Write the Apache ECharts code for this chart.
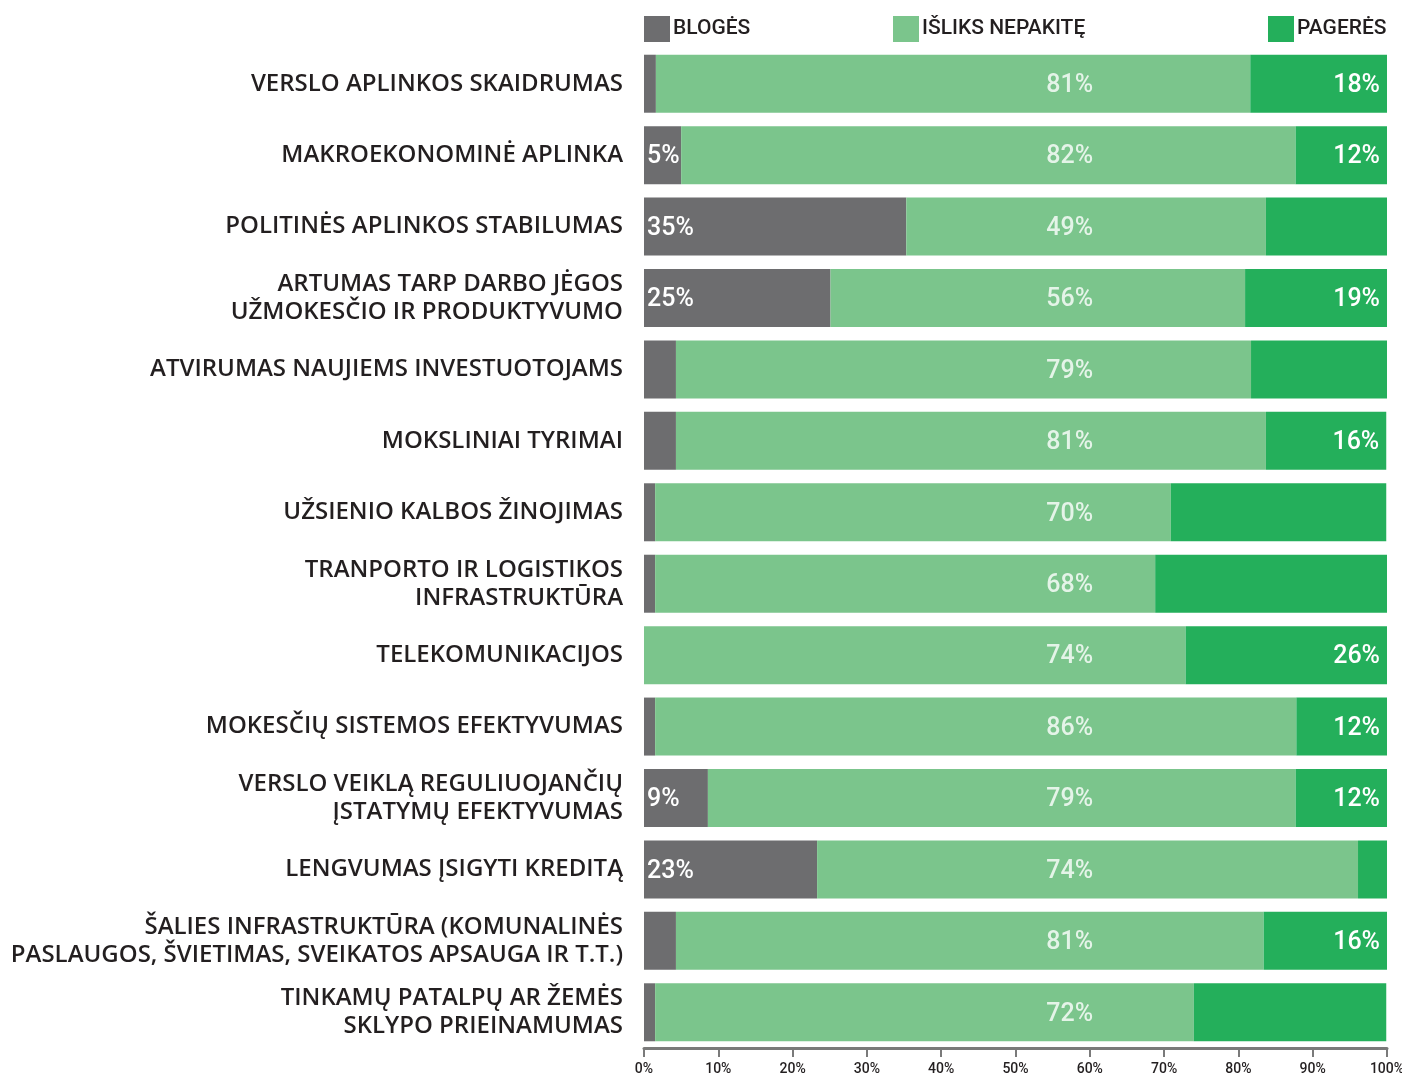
<!DOCTYPE html>
<html>
<head>
<meta charset="utf-8">
<title>Verslo aplinka</title>
<script src="https://cdn.jsdelivr.net/npm/echarts@6/dist/echarts.min.js"></script>
<style>
  html, body { margin: 0; padding: 0; background: #fff; }
  #stats { width: 1402px; height: 1076px; }
</style>
</head>
<body>
<div id="stats"></div>
<script>
let categories = [
    'VERSLO APLINKOS SKAIDRUMAS',
    'MAKROEKONOMINĖ APLINKA',
    'POLITINĖS APLINKOS STABILUMAS',
    'ARTUMAS TARP DARBO JĖGOS\nUŽMOKESČIO IR PRODUKTYVUMO',
    'ATVIRUMAS NAUJIEMS INVESTUOTOJAMS',
    'MOKSLINIAI TYRIMAI',
    'UŽSIENIO KALBOS ŽINOJIMAS',
    'TRANPORTO IR LOGISTIKOS\nINFRASTRUKTŪRA',
    'TELEKOMUNIKACIJOS',
    'MOKESČIŲ SISTEMOS EFEKTYVUMAS',
    'VERSLO VEIKLĄ REGULIUOJANČIŲ\nĮSTATYMŲ EFEKTYVUMAS',
    'LENGVUMAS ĮSIGYTI KREDITĄ',
    'ŠALIES INFRASTRUKTŪRA (KOMUNALINĖS\nPASLAUGOS, ŠVIETIMAS, SVEIKATOS APSAUGA IR T.T.)',
    'TINKAMŲ PATALPŲ AR ŽEMĖS\nSKLYPO PRIEINAMUMAS'
];
// bar lengths as drawn (%)
let bloges   = [1.6, 5.0, 35.3, 25.1, 4.3, 4.3, 1.5, 1.5, 0, 1.5, 8.6, 23.3, 4.3, 1.5];
let nepakite = [80.0, 82.7, 48.4, 55.8, 77.4, 79.4, 69.4, 67.3, 72.9, 86.3, 79.1, 72.8, 79.1, 72.5];
let pageres  = [18.4, 12.3, 16.3, 19.1, 18.3, 16.2, 29.0, 31.3, 27.1, 12.4, 12.4, 4.0, 16.6, 25.9];
// printed labels (empty = not printed)
let blogesLabels   = ['', '5%', '35%', '25%', '', '', '', '', '', '', '9%', '23%', '', ''];
let nepakiteLabels = ['81%', '82%', '49%', '56%', '79%', '81%', '70%', '68%', '74%', '86%', '79%', '74%', '81%', '72%'];
let pageresLabels  = ['18%', '12%', '', '19%', '', '16%', '', '', '26%', '12%', '12%', '', '16%', ''];
let xTicks = [0, 10, 20, 30, 40, 50, 60, 70, 80, 90, 100];

let FONT_NUM = "'Roboto', 'DejaVu Sans Condensed', sans-serif";
let FONT_CAT = "'Open Sans', 'Noto Sans', sans-serif";
let MID_LABEL_X = 57.3; // middle labels all sit in one column
let C_GRAY = '#6d6d6f', C_LIGHT = '#7bc58c', C_GREEN = '#24af5b';

let myChart = echarts.init(document.getElementById('stats'));

let numLabel = function (arr, pos, dist) {
    return {
        show: true,
        position: pos,
        distance: dist,
        offset: [0, 2],
        color: '#fff',
        fontFamily: FONT_NUM,
        fontWeight: 500,
        fontSize: 25,
        formatter: function (p) { return arr[p.dataIndex]; }
    };
};

let legendItem = function (name, left) {
    return {
        data: [name],
        left: left,
        top: 16,
        icon: 'rect',
        itemWidth: 26,
        itemHeight: 26,
        itemGap: 0,
        padding: 0,
        selectedMode: false,
        textStyle: {
            fontFamily: FONT_NUM,
            fontWeight: 500,
            fontSize: 21,
            color: '#231f20',
            padding: [0, 0, 0, -2]
        }
    };
};

let option = {
    animation: false,
    backgroundColor: '#fff',
    legend: [
        legendItem('BLOGĖS', 644),
        legendItem('IŠLIKS NEPAKITĘ', 893),
        legendItem('PAGERĖS', 1268)
    ],
    grid: {
        left: 644,
        right: 15,
        top: 48,
        bottom: 28,
        containLabel: false,
        outerBoundsMode: 'none'
    },
    xAxis: {
        type: 'value',
        min: 0,
        max: 100,
        interval: 10,
        splitLine: { show: false },
        axisLine: { show: true, lineStyle: { color: '#7a7a7a', width: 3 } },
        axisTick: { show: true, length: 9, lineStyle: { color: '#7a7a7a', width: 2 } },
        axisLabel: {
            margin: 14,
            color: '#231f20',
            fontFamily: FONT_NUM,
            fontWeight: 500,
            fontSize: 14,
            customValues: xTicks,
            formatter: '{value}%'
        }
    },
    yAxis: {
        type: 'category',
        inverse: true,
        data: categories,
        axisLine: { show: false },
        axisTick: { show: false },
        axisLabel: {
            margin: 21,
            color: '#231f20',
            fontFamily: FONT_CAT,
            fontWeight: 600,
            fontSize: 24,
            lineHeight: 28,
            align: 'right'
        }
    },
    series: [
        {
            name: 'BLOGĖS',
            type: 'bar',
            stack: 'total',
            barWidth: 58,
            itemStyle: { color: C_GRAY },
            label: numLabel(blogesLabels, 'insideLeft', 3),
            data: bloges
        },
        {
            name: 'IŠLIKS NEPAKITĘ',
            type: 'bar',
            stack: 'total',
            barWidth: 58,
            itemStyle: { color: C_LIGHT },
            data: nepakite
        },
        {
            name: 'PAGERĖS',
            type: 'bar',
            stack: 'total',
            barWidth: 58,
            itemStyle: { color: C_GREEN },
            label: numLabel(pageresLabels, 'insideRight', 7),
            data: pageres
        },
        {
            name: 'midLabels',
            type: 'scatter',
            symbolSize: 1,
            itemStyle: { color: 'rgba(0,0,0,0)' },
            label: numLabel(nepakiteLabels, 'inside', 0),
            silent: true,
            z: 10,
            data: categories.map(function (c) { return [MID_LABEL_X, c]; })
        }
    ]
};
myChart.setOption(option);
</script>
</body>
</html>
